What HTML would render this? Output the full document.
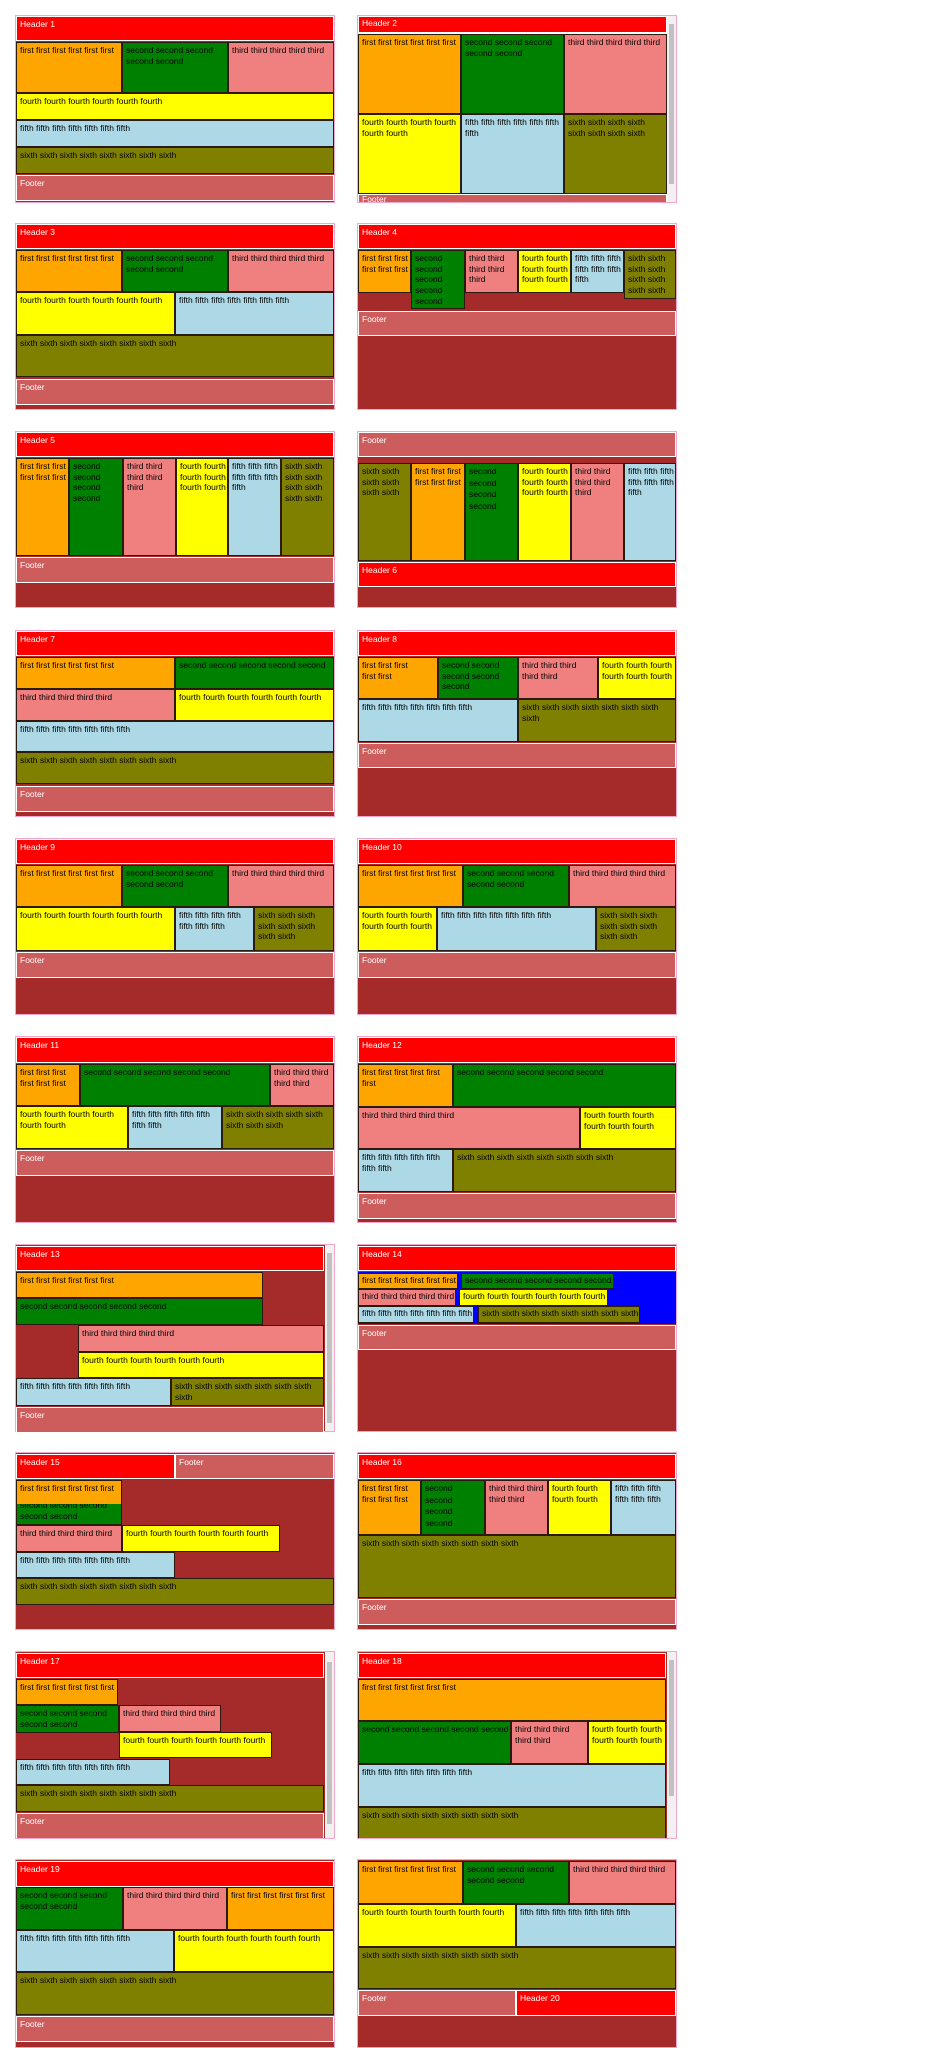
<!DOCTYPE html>
<html><head><meta charset="utf-8">
<style>
html,body{margin:0;padding:0;background:#fff;width:925px;height:2048px;overflow:hidden;position:relative}
div{position:absolute;box-sizing:border-box;font-family:"Liberation Sans",Arial,sans-serif;font-size:8.5px;line-height:10.7px;white-space:nowrap;overflow:hidden;color:#000}
.c{border:1px solid #f2a6c8;background:#a52a2a}
.h,.f{border:1px solid #fff;color:#fff;padding:2px 3px}
.h{background:#ff0000}
.f{background:#cd5c5c}
.a,.b,.t,.u,.v,.w{border:1px solid #2a1a10;padding:2px 3px}
.a{background:#ffa500}.b{background:#008000}.t{background:#f08080}.u{background:#ffff00}.v{background:#add8e6}.w{background:#808000}
.s{background:#f1f1f1}
.s i{position:absolute;left:2px;right:2px;background:#c1c1c1;display:block}
.sm{padding:1px 3px}
</style></head><body>

<!-- Box 1 -->
<div class="c" style="left:15px;top:15px;width:320px;height:188px"></div>
<div class="h" style="left:16px;top:16px;width:318px;height:25px">Header 1</div>
<div class="a" style="left:16px;top:42px;width:106px;height:51px">first first first first first first</div>
<div class="b" style="left:122px;top:42px;width:106px;height:51px">second second second<br>second second</div>
<div class="t" style="left:228px;top:42px;width:106px;height:51px;border-right-color:#2020c0">third third third third third</div>
<div class="u" style="left:16px;top:93px;width:318px;height:27px">fourth fourth fourth fourth fourth fourth</div>
<div class="v" style="left:16px;top:120px;width:318px;height:27px">fifth fifth fifth fifth fifth fifth fifth</div>
<div class="w" style="left:16px;top:147px;width:318px;height:27px">sixth sixth sixth sixth sixth sixth sixth sixth</div>
<div class="f" style="left:16px;top:175px;width:318px;height:26px">Footer</div>

<!-- Box 2 -->
<div class="c" style="left:357px;top:15px;width:320px;height:188px;background:#fff"></div>
<div class="h" style="left:358px;top:16px;width:309px;height:17px;padding-top:1px">Header 2</div>
<div class="a" style="left:358px;top:34px;width:103px;height:80px">first first first first first first</div>
<div class="b" style="left:461px;top:34px;width:103px;height:80px">second second second<br>second second</div>
<div class="t" style="left:564px;top:34px;width:103px;height:80px">third third third third third</div>
<div class="u" style="left:358px;top:114px;width:103px;height:80px">fourth fourth fourth fourth<br>fourth fourth</div>
<div class="v" style="left:461px;top:114px;width:103px;height:80px">fifth fifth fifth fifth fifth fifth<br>fifth</div>
<div class="w" style="left:564px;top:114px;width:103px;height:80px">sixth sixth sixth sixth<br>sixth sixth sixth sixth</div>
<div class="f" style="left:358px;top:194px;width:309px;height:8px;padding-top:0;line-height:9px;border-bottom:0">Footer</div>
<div class="s" style="left:667px;top:16px;width:9px;height:186px"><i style="top:8px;height:160px"></i></div>

<!-- Box 3 -->
<div class="c" style="left:15px;top:223px;width:320px;height:187px"></div>
<div class="h" style="left:16px;top:224px;width:318px;height:25px">Header 3</div>
<div class="a" style="left:16px;top:250px;width:106px;height:42px">first first first first first first</div>
<div class="b" style="left:122px;top:250px;width:106px;height:42px">second second second<br>second second</div>
<div class="t" style="left:228px;top:250px;width:106px;height:42px">third third third third third</div>
<div class="u" style="left:16px;top:292px;width:159px;height:43px">fourth fourth fourth fourth fourth fourth</div>
<div class="v" style="left:175px;top:292px;width:159px;height:43px">fifth fifth fifth fifth fifth fifth fifth</div>
<div class="w" style="left:16px;top:335px;width:318px;height:42px">sixth sixth sixth sixth sixth sixth sixth sixth</div>
<div class="f" style="left:16px;top:379px;width:318px;height:26px">Footer</div>

<!-- Box 4 -->
<div class="c" style="left:357px;top:223px;width:320px;height:187px"></div>
<div class="h" style="left:358px;top:224px;width:318px;height:25px">Header 4</div>
<div class="a" style="left:358px;top:250px;width:53px;height:43px">first first first<br>first first first</div>
<div class="b" style="left:411px;top:250px;width:54px;height:59px">second<br>second<br>second<br>second<br>second</div>
<div class="t" style="left:465px;top:250px;width:53px;height:43px">third third<br>third third<br>third</div>
<div class="u" style="left:518px;top:250px;width:53px;height:43px">fourth fourth<br>fourth fourth<br>fourth fourth</div>
<div class="v" style="left:571px;top:250px;width:53px;height:43px">fifth fifth fifth<br>fifth fifth fifth<br>fifth</div>
<div class="w" style="left:624px;top:250px;width:52px;height:49px">sixth sixth<br>sixth sixth<br>sixth sixth<br>sixth sixth</div>
<div class="f" style="left:358px;top:311px;width:318px;height:25px">Footer</div>

<!-- Box 5 -->
<div class="c" style="left:15px;top:431px;width:320px;height:177px"></div>
<div class="h" style="left:16px;top:432px;width:318px;height:25px">Header 5</div>
<div class="a" style="left:16px;top:458px;width:53px;height:98px">first first first<br>first first first</div>
<div class="b" style="left:69px;top:458px;width:54px;height:98px">second<br>second<br>second<br>second</div>
<div class="t" style="left:123px;top:458px;width:53px;height:98px">third third<br>third third<br>third</div>
<div class="u" style="left:176px;top:458px;width:52px;height:98px">fourth fourth<br>fourth fourth<br>fourth fourth</div>
<div class="v" style="left:228px;top:458px;width:53px;height:98px">fifth fifth fifth<br>fifth fifth fifth<br>fifth</div>
<div class="w" style="left:281px;top:458px;width:53px;height:98px">sixth sixth<br>sixth sixth<br>sixth sixth<br>sixth sixth</div>
<div class="f" style="left:16px;top:557px;width:318px;height:26px">Footer</div>

<!-- Box 6 -->
<div class="c" style="left:357px;top:431px;width:320px;height:177px"></div>
<div class="f" style="left:358px;top:432px;width:318px;height:25px">Footer</div>
<div class="w" style="left:358px;top:463px;width:53px;height:98px">sixth sixth<br>sixth sixth<br>sixth sixth</div>
<div class="a" style="left:411px;top:463px;width:54px;height:98px">first first first<br>first first first</div>
<div class="b" style="left:465px;top:463px;width:53px;height:98px;line-height:11.5px">second<br>second<br>second<br>second</div>
<div class="u" style="left:518px;top:463px;width:53px;height:98px">fourth fourth<br>fourth fourth<br>fourth fourth</div>
<div class="t" style="left:571px;top:463px;width:53px;height:98px">third third<br>third third<br>third</div>
<div class="v" style="left:624px;top:463px;width:52px;height:98px">fifth fifth fifth<br>fifth fifth fifth<br>fifth</div>
<div class="h" style="left:358px;top:562px;width:318px;height:25px">Header 6</div>

<!-- Box 7 -->
<div class="c" style="left:15px;top:630px;width:320px;height:187px"></div>
<div class="h" style="left:16px;top:631px;width:318px;height:25px">Header 7</div>
<div class="a" style="left:16px;top:657px;width:159px;height:32px">first first first first first first</div>
<div class="b" style="left:175px;top:657px;width:159px;height:32px">second second second second second</div>
<div class="t" style="left:16px;top:689px;width:159px;height:32px">third third third third third</div>
<div class="u" style="left:175px;top:689px;width:159px;height:32px">fourth fourth fourth fourth fourth fourth</div>
<div class="v" style="left:16px;top:721px;width:318px;height:31px">fifth fifth fifth fifth fifth fifth fifth</div>
<div class="w" style="left:16px;top:752px;width:318px;height:32px">sixth sixth sixth sixth sixth sixth sixth sixth</div>
<div class="f" style="left:16px;top:786px;width:318px;height:26px">Footer</div>

<!-- Box 8 -->
<div class="c" style="left:357px;top:630px;width:320px;height:187px"></div>
<div class="h" style="left:358px;top:631px;width:318px;height:25px">Header 8</div>
<div class="a" style="left:358px;top:657px;width:80px;height:42px">first first first<br>first first</div>
<div class="b" style="left:438px;top:657px;width:80px;height:42px">second second<br>second second<br>second</div>
<div class="t" style="left:518px;top:657px;width:80px;height:42px">third third third<br>third third</div>
<div class="u" style="left:598px;top:657px;width:78px;height:42px">fourth fourth fourth<br>fourth fourth fourth</div>
<div class="v" style="left:358px;top:699px;width:160px;height:43px">fifth fifth fifth fifth fifth fifth fifth</div>
<div class="w" style="left:518px;top:699px;width:158px;height:43px">sixth sixth sixth sixth sixth sixth sixth<br>sixth</div>
<div class="f" style="left:358px;top:743px;width:318px;height:25px">Footer</div>

<!-- Box 9 -->
<div class="c" style="left:15px;top:838px;width:320px;height:177px"></div>
<div class="h" style="left:16px;top:839px;width:318px;height:25px">Header 9</div>
<div class="a" style="left:16px;top:865px;width:106px;height:42px">first first first first first first</div>
<div class="b" style="left:122px;top:865px;width:106px;height:42px">second second second<br>second second</div>
<div class="t" style="left:228px;top:865px;width:106px;height:42px">third third third third third</div>
<div class="u" style="left:16px;top:907px;width:159px;height:44px">fourth fourth fourth fourth fourth fourth</div>
<div class="v" style="left:175px;top:907px;width:79px;height:44px">fifth fifth fifth fifth<br>fifth fifth fifth</div>
<div class="w" style="left:254px;top:907px;width:80px;height:44px">sixth sixth sixth<br>sixth sixth sixth<br>sixth sixth</div>
<div class="f" style="left:16px;top:952px;width:318px;height:26px">Footer</div>

<!-- Box 10 -->
<div class="c" style="left:357px;top:838px;width:320px;height:177px"></div>
<div class="h" style="left:358px;top:839px;width:318px;height:25px">Header 10</div>
<div class="a" style="left:358px;top:865px;width:105px;height:42px">first first first first first first</div>
<div class="b" style="left:463px;top:865px;width:106px;height:42px">second second second<br>second second</div>
<div class="t" style="left:569px;top:865px;width:107px;height:42px">third third third third third</div>
<div class="u" style="left:358px;top:907px;width:79px;height:44px">fourth fourth fourth<br>fourth fourth fourth</div>
<div class="v" style="left:437px;top:907px;width:159px;height:44px">fifth fifth fifth fifth fifth fifth fifth</div>
<div class="w" style="left:596px;top:907px;width:80px;height:44px">sixth sixth sixth<br>sixth sixth sixth<br>sixth sixth</div>
<div class="f" style="left:358px;top:952px;width:318px;height:26px">Footer</div>

<!-- Box 11 -->
<div class="c" style="left:15px;top:1036px;width:320px;height:187px"></div>
<div class="h" style="left:16px;top:1037px;width:318px;height:26px">Header 11</div>
<div class="a" style="left:16px;top:1064px;width:64px;height:42px">first first first<br>first first first</div>
<div class="b" style="left:80px;top:1064px;width:190px;height:42px">second second second second second</div>
<div class="t" style="left:270px;top:1064px;width:64px;height:42px">third third third<br>third third</div>
<div class="u" style="left:16px;top:1106px;width:112px;height:43px">fourth fourth fourth fourth<br>fourth fourth</div>
<div class="v" style="left:128px;top:1106px;width:94px;height:43px">fifth fifth fifth fifth fifth<br>fifth fifth</div>
<div class="w" style="left:222px;top:1106px;width:112px;height:43px">sixth sixth sixth sixth sixth<br>sixth sixth sixth</div>
<div class="f" style="left:16px;top:1150px;width:318px;height:26px">Footer</div>

<!-- Box 12 -->
<div class="c" style="left:357px;top:1036px;width:320px;height:187px"></div>
<div class="h" style="left:358px;top:1037px;width:318px;height:26px">Header 12</div>
<div class="a" style="left:358px;top:1064px;width:95px;height:43px">first first first first first<br>first</div>
<div class="b" style="left:453px;top:1064px;width:223px;height:43px">second second second second second</div>
<div class="t" style="left:358px;top:1107px;width:222px;height:42px">third third third third third</div>
<div class="u" style="left:580px;top:1107px;width:96px;height:42px">fourth fourth fourth<br>fourth fourth fourth</div>
<div class="v" style="left:358px;top:1149px;width:95px;height:43px">fifth fifth fifth fifth fifth<br>fifth fifth</div>
<div class="w" style="left:453px;top:1149px;width:223px;height:43px">sixth sixth sixth sixth sixth sixth sixth sixth</div>
<div class="f" style="left:358px;top:1193px;width:318px;height:26px">Footer</div>

<!-- Box 13 -->
<div class="c" style="left:15px;top:1244px;width:320px;height:188px"></div>
<div class="h" style="left:16px;top:1246px;width:308px;height:25px">Header 13</div>
<div class="a" style="left:16px;top:1272px;width:247px;height:26px">first first first first first first</div>
<div class="b" style="left:16px;top:1298px;width:247px;height:27px">second second second second second</div>
<div class="t" style="left:78px;top:1325px;width:246px;height:27px">third third third third third</div>
<div class="u" style="left:78px;top:1352px;width:246px;height:26px">fourth fourth fourth fourth fourth fourth</div>
<div class="v" style="left:16px;top:1378px;width:155px;height:28px">fifth fifth fifth fifth fifth fifth fifth</div>
<div class="w" style="left:171px;top:1378px;width:153px;height:28px">sixth sixth sixth sixth sixth sixth sixth<br>sixth</div>
<div class="f" style="left:16px;top:1407px;width:308px;height:25px;border-bottom:0">Footer</div>
<div class="s" style="left:325px;top:1245px;width:9px;height:186px"><i style="top:8px;height:170px"></i></div>

<!-- Box 14 -->
<div class="c" style="left:357px;top:1244px;width:320px;height:188px"></div>
<div class="h" style="left:358px;top:1246px;width:318px;height:25px">Header 14</div>
<div style="left:358px;top:1272px;width:318px;height:52px;background:#0000ff"></div>
<div class="a sm" style="left:358px;top:1273px;width:100px;height:16px">first first first first first first</div>
<div class="b sm" style="left:461px;top:1273px;width:153px;height:16px">second second second second second</div>
<div class="t sm" style="left:358px;top:1289px;width:98px;height:17px">third third third third third</div>
<div class="u sm" style="left:459px;top:1289px;width:149px;height:17px">fourth fourth fourth fourth fourth fourth</div>
<div class="v sm" style="left:358px;top:1306px;width:116px;height:17px">fifth fifth fifth fifth fifth fifth fifth</div>
<div class="w sm" style="left:478px;top:1306px;width:162px;height:17px">sixth sixth sixth sixth sixth sixth sixth sixth</div>
<div class="f" style="left:358px;top:1325px;width:318px;height:25px">Footer</div>

<!-- Box 15 -->
<div class="c" style="left:15px;top:1452px;width:320px;height:178px"></div>
<div class="h" style="left:16px;top:1454px;width:159px;height:25px">Header 15</div>
<div class="f" style="left:175px;top:1454px;width:159px;height:25px">Footer</div>
<div class="b" style="left:16px;top:1497px;width:106px;height:28px">second second second<br>second second</div>
<div class="a" style="left:16px;top:1480px;width:106px;height:24px;border-bottom:0">first first first first first first</div>
<div class="t" style="left:16px;top:1525px;width:106px;height:27px">third third third third third</div>
<div class="u" style="left:122px;top:1525px;width:158px;height:27px">fourth fourth fourth fourth fourth fourth</div>
<div class="v" style="left:16px;top:1552px;width:159px;height:26px">fifth fifth fifth fifth fifth fifth fifth</div>
<div class="w" style="left:16px;top:1578px;width:318px;height:27px">sixth sixth sixth sixth sixth sixth sixth sixth</div>

<!-- Box 16 -->
<div class="c" style="left:357px;top:1452px;width:320px;height:178px"></div>
<div class="h" style="left:358px;top:1454px;width:318px;height:25px">Header 16</div>
<div class="a" style="left:358px;top:1480px;width:63px;height:55px">first first first<br>first first first</div>
<div class="b" style="left:421px;top:1480px;width:64px;height:55px;line-height:11.5px">second<br>second<br>second<br>second</div>
<div class="t" style="left:485px;top:1480px;width:63px;height:55px">third third third<br>third third</div>
<div class="u" style="left:548px;top:1480px;width:63px;height:55px">fourth fourth<br>fourth fourth</div>
<div class="v" style="left:611px;top:1480px;width:65px;height:55px">fifth fifth fifth<br>fifth fifth fifth</div>
<div class="w" style="left:358px;top:1535px;width:318px;height:63px">sixth sixth sixth sixth sixth sixth sixth sixth</div>
<div class="f" style="left:358px;top:1599px;width:318px;height:26px">Footer</div>

<!-- Box 17 -->
<div class="c" style="left:15px;top:1651px;width:320px;height:188px"></div>
<div class="h" style="left:16px;top:1653px;width:308px;height:25px">Header 17</div>
<div class="a" style="left:16px;top:1679px;width:102px;height:26px">first first first first first first</div>
<div class="b" style="left:16px;top:1705px;width:103px;height:28px">second second second<br>second second</div>
<div class="t" style="left:119px;top:1705px;width:102px;height:27px">third third third third third</div>
<div class="u" style="left:119px;top:1732px;width:153px;height:26px">fourth fourth fourth fourth fourth fourth</div>
<div class="v" style="left:16px;top:1759px;width:154px;height:26px">fifth fifth fifth fifth fifth fifth fifth</div>
<div class="w" style="left:16px;top:1785px;width:308px;height:27px">sixth sixth sixth sixth sixth sixth sixth sixth</div>
<div class="f" style="left:16px;top:1813px;width:308px;height:25px;border-bottom:0">Footer</div>
<div class="s" style="left:325px;top:1652px;width:9px;height:186px"><i style="top:10px;height:162px"></i></div>

<!-- Box 18 -->
<div class="c" style="left:357px;top:1651px;width:320px;height:188px"></div>
<div class="h" style="left:358px;top:1653px;width:308px;height:25px">Header 18</div>
<div class="a" style="left:358px;top:1679px;width:308px;height:42px">first first first first first first</div>
<div class="b" style="left:358px;top:1721px;width:153px;height:43px">second second second second second</div>
<div class="t" style="left:511px;top:1721px;width:77px;height:43px">third third third<br>third third</div>
<div class="u" style="left:588px;top:1721px;width:78px;height:43px">fourth fourth fourth<br>fourth fourth fourth</div>
<div class="v" style="left:358px;top:1764px;width:308px;height:43px">fifth fifth fifth fifth fifth fifth fifth</div>
<div class="w" style="left:358px;top:1807px;width:308px;height:31px;border-bottom:0">sixth sixth sixth sixth sixth sixth sixth sixth</div>
<div class="s" style="left:667px;top:1652px;width:9px;height:186px"><i style="top:8px;height:136px"></i></div>

<!-- Box 19 -->
<div class="c" style="left:15px;top:1859px;width:320px;height:189px"></div>
<div class="h" style="left:16px;top:1861px;width:318px;height:26px">Header 19</div>
<div class="b" style="left:16px;top:1887px;width:107px;height:43px">second second second<br>second second</div>
<div class="t" style="left:123px;top:1887px;width:104px;height:43px">third third third third third</div>
<div class="a" style="left:227px;top:1887px;width:107px;height:43px">first first first first first first</div>
<div class="v" style="left:16px;top:1930px;width:158px;height:42px">fifth fifth fifth fifth fifth fifth fifth</div>
<div class="u" style="left:174px;top:1930px;width:160px;height:42px">fourth fourth fourth fourth fourth fourth</div>
<div class="w" style="left:16px;top:1972px;width:318px;height:43px">sixth sixth sixth sixth sixth sixth sixth sixth</div>
<div class="f" style="left:16px;top:2016px;width:318px;height:26px">Footer</div>

<!-- Box 20 -->
<div class="c" style="left:357px;top:1859px;width:320px;height:189px"></div>
<div class="a" style="left:358px;top:1861px;width:105px;height:43px">first first first first first first</div>
<div class="b" style="left:463px;top:1861px;width:106px;height:43px">second second second<br>second second</div>
<div class="t" style="left:569px;top:1861px;width:107px;height:43px">third third third third third</div>
<div class="u" style="left:358px;top:1904px;width:158px;height:43px">fourth fourth fourth fourth fourth fourth</div>
<div class="v" style="left:516px;top:1904px;width:160px;height:43px">fifth fifth fifth fifth fifth fifth fifth</div>
<div class="w" style="left:358px;top:1947px;width:318px;height:42px">sixth sixth sixth sixth sixth sixth sixth sixth</div>
<div class="f" style="left:358px;top:1990px;width:158px;height:26px">Footer</div>
<div class="h" style="left:516px;top:1990px;width:160px;height:26px">Header 20</div>

</body></html>
